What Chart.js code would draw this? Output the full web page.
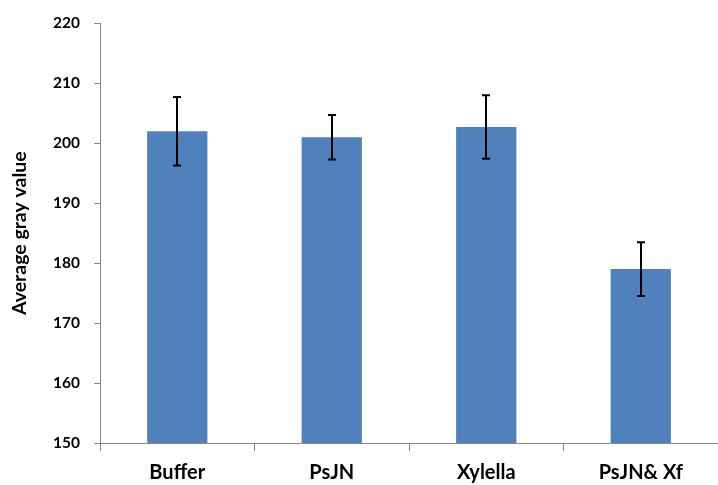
<!DOCTYPE html>
<html>
<head>
<meta charset="utf-8">
<script src="https://cdn.jsdelivr.net/npm/chart.js@4/dist/chart.umd.min.js"></script>
<style>
  html, body { margin: 0; padding: 0; background: #fff; }
  #wrap { width: 718px; height: 485px; }
</style>
</head>
<body>
<div id="wrap"><canvas id="grayChart"></canvas></div>
<script>
const categories = ['Buffer', 'PsJN', 'Xylella', 'PsJN& Xf'];
const meanValues = [202.0, 201.0, 202.7, 179.0];
const errorValues = [5.7, 3.7, 5.3, 4.5];
const yTicks = [150, 160, 170, 180, 190, 200, 210, 220];

// draws the +/- error bars using the y scale
const errorBarPlugin = {
    id: 'errorBars',
    afterDatasetsDraw(chart) {
        const ctx = chart.ctx;
        const yScale = chart.scales.y;
        const meta = chart.getDatasetMeta(0);
        ctx.save();
        ctx.strokeStyle = '#000';
        ctx.lineWidth = 2;
        meta.data.forEach((bar, i) => {
            const x = Math.round(bar.x);
            const top = yScale.getPixelForValue(meanValues[i] + errorValues[i]);
            const bottom = yScale.getPixelForValue(meanValues[i] - errorValues[i]);
            ctx.beginPath();
            ctx.moveTo(x, top);
            ctx.lineTo(x, bottom);
            ctx.moveTo(x - 4, top);
            ctx.lineTo(x + 4, top);
            ctx.moveTo(x - 4, bottom);
            ctx.lineTo(x + 4, bottom);
            ctx.stroke();
        });
        ctx.restore();
    }
};

new Chart(document.getElementById('grayChart').getContext('2d'), {
    type: 'bar',
    data: {
        labels: categories,
        datasets: [{
            data: meanValues,
            backgroundColor: '#4F81BD',
            borderWidth: 0,
            categoryPercentage: 0.39,
            barPercentage: 1.0
        }]
    },
    options: {
        responsive: true,
        maintainAspectRatio: false,
        animation: false,
        layout: { padding: { top: 13, right: 0, left: 0, bottom: 0 } },
        plugins: {
            legend: { display: false },
            tooltip: { enabled: false }
        },
        scales: {
            x: {
                grid: { drawOnChartArea: false, color: '#868686', tickLength: 8, offset: true },
                border: { color: '#868686', width: 1 },
                ticks: { color: '#000', font: { family: 'Lato', size: 20, weight: 'bold' }, padding: 10 },
                afterFit: (scale) => { scale.height = 42; }
            },
            y: {
                min: 150,
                max: 220,
                afterBuildTicks: (scale) => { scale.ticks = yTicks.map(v => ({ value: v })); },
                grid: { drawOnChartArea: false, color: '#868686', tickLength: 6 },
                border: { color: '#868686', width: 1 },
                ticks: { color: '#000', font: { family: 'Lato', size: 15.5, weight: 'bold' }, padding: 14 },
                title: {
                    display: true,
                    text: 'Average gray value',
                    color: '#000',
                    font: { family: 'Lato', size: 19.5, weight: 'bold' },
                    padding: { top: 8, bottom: 0 }
                },
                afterFit: (scale) => { scale.width = 100; }
            }
        }
    },
    plugins: [errorBarPlugin]
});
</script>
</body>
</html>
